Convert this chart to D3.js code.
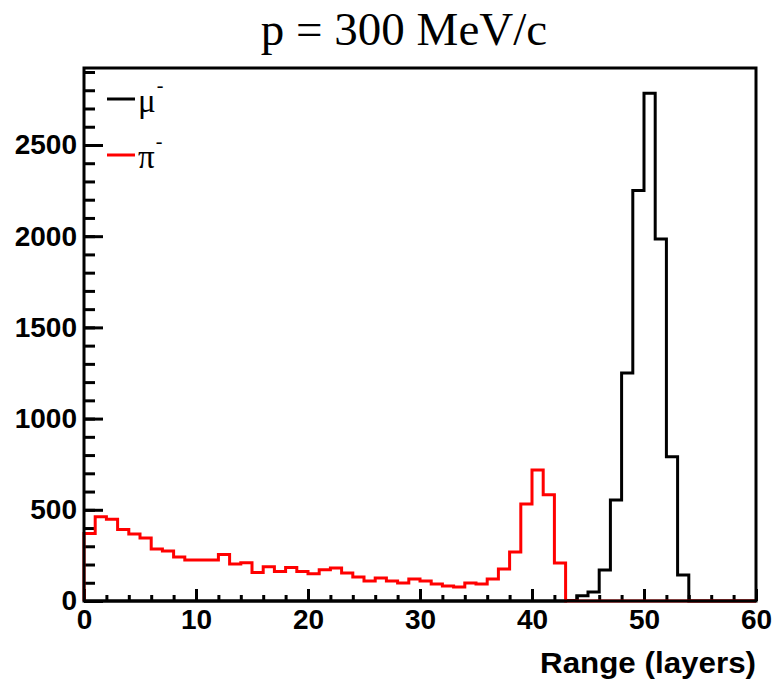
<!DOCTYPE html>
<html>
<head>
<meta charset="utf-8">
<script src="https://cdn.jsdelivr.net/npm/d3@7"></script>
<style>
  body { margin: 0; background: #fff; }
  .tick text { font-family: "Liberation Sans", Arial, sans-serif; font-weight: bold; font-size: 28px; fill: #000; }
</style>
</head>
<body>
<div id="chart"></div>
<script>
// histogram contents, one value per layer bin (0..59)
const BIN_EDGES = d3.range(0, 61);
const MU_COUNTS = [0,0,0,0,0,0,0,0,0,0, 0,0,0,0,0,0,0,0,0,0,
                   0,0,0,0,0,0,0,0,0,0, 0,0,0,0,0,0,0,0,0,0,
                   0,0,0,3,29,49,170,554,1250,2250, 2783,1985,791,142,0,0,0,0,0,0];
const PI_COUNTS = [370,462,448,392,367,345,285,274,241,225, 225,225,255,203,210,156,188,162,183,162,
                   150,172,181,154,132,110,126,110,99,121, 110,93,82,77,99,93,121,175,268,532,
                   718,583,208,0,0,0,0,0,0,0, 0,0,0,0,0,0,0,0,0,0];
const X_MAJOR = [0, 10, 20, 30, 40, 50, 60];
const Y_MAJOR = [0, 500, 1000, 1500, 2000, 2500];

const FRAME_WIDTH = 774;
const FRAME_HEIGHT = 684;
const MARGINS = {left: 84, right: 18, top: 68, bottom: 83};

const svg = d3.select("#chart")
  .append("svg")
    .attr("width", FRAME_WIDTH)
    .attr("height", FRAME_HEIGHT);

const x = d3.scaleLinear()
  .domain([0, 60])
  .range([MARGINS.left, FRAME_WIDTH - MARGINS.right]);

const y = d3.scaleLinear()
  .domain([0, 2922])
  .range([FRAME_HEIGHT - MARGINS.bottom, MARGINS.top]);

// step outline of a histogram
function stepPoints(counts) {
  const pts = [[BIN_EDGES[0], 0]];
  counts.forEach((v, i) => {
    pts.push([BIN_EDGES[i], v]);
    pts.push([BIN_EDGES[i + 1], v]);
  });
  pts.push([BIN_EDGES[BIN_EDGES.length - 1], 0]);
  return pts;
}

const line = d3.line()
  .x((d) => x(d[0]))
  .y((d) => y(d[1]));

// minor ticks
svg.append("g")
  .attr("transform", "translate(0," + y(0) + ")")
  .call(d3.axisBottom(x).tickValues(d3.range(0, 61, 2)).tickSizeInner(-6).tickSizeOuter(0).tickFormat(""))
  .call((g) => g.select(".domain").remove())
  .selectAll("line").attr("stroke-width", 3);

svg.append("g")
  .attr("transform", "translate(" + x(0) + ",0)")
  .call(d3.axisLeft(y).tickValues(d3.range(0, 2901, 100)).tickSizeInner(-11).tickSizeOuter(0).tickFormat(""))
  .call((g) => g.select(".domain").remove())
  .selectAll("line").attr("stroke-width", 3);

// major ticks with labels
const xAxis = svg.append("g")
  .attr("transform", "translate(0," + y(0) + ")")
  .call(d3.axisBottom(x).tickValues(X_MAJOR).tickSizeInner(-12).tickSizeOuter(0).tickPadding(8).tickFormat(d3.format("d")))
  .call((g) => g.select(".domain").remove());
xAxis.selectAll("line").attr("stroke-width", 3);

const yAxis = svg.append("g")
  .attr("transform", "translate(" + x(0) + ",0)")
  .call(d3.axisLeft(y).tickValues(Y_MAJOR).tickSizeInner(-19).tickSizeOuter(0).tickPadding(7).tickFormat(d3.format("d")))
  .call((g) => g.select(".domain").remove());
yAxis.selectAll("line").attr("stroke-width", 3);

// histograms
svg.append("path")
  .attr("d", line(stepPoints(MU_COUNTS)))
  .attr("fill", "none")
  .attr("stroke", "#000")
  .attr("stroke-width", 3);

svg.append("path")
  .attr("d", line(stepPoints(PI_COUNTS)))
  .attr("fill", "none")
  .attr("stroke", "#ff0000")
  .attr("stroke-width", 3);

// frame
svg.append("rect")
  .attr("x", x(0))
  .attr("y", y(2922))
  .attr("width", x(60) - x(0))
  .attr("height", y(0) - y(2922))
  .attr("fill", "none")
  .attr("stroke", "#000")
  .attr("stroke-width", 3);

// title
svg.append("text")
  .attr("x", 404)
  .attr("y", 45)
  .attr("text-anchor", "middle")
  .style("font-family", "'Liberation Serif', 'Times New Roman', serif")
  .style("font-size", "47px")
  .text("p = 300 MeV/c");

// axis title
svg.append("text")
  .attr("x", x(60))
  .attr("y", 673)
  .attr("text-anchor", "end")
  .attr("textLength", 216)
  .attr("lengthAdjust", "spacingAndGlyphs")
  .style("font-family", "'Liberation Sans', Arial, sans-serif")
  .style("font-weight", "bold")
  .style("font-size", "30px")
  .text("Range (layers)");

// legend
const legend = [
  {label: "\u03bc", color: "#000", yl: 99, yt: 112},
  {label: "\u03c0", color: "#ff0000", yl: 155, yt: 168}
];
legend.forEach((d) => {
  svg.append("line")
    .attr("x1", 107).attr("x2", 135)
    .attr("y1", d.yl).attr("y2", d.yl)
    .attr("stroke", d.color)
    .attr("stroke-width", 3);
  const t = svg.append("text")
    .attr("x", 138)
    .attr("y", d.yt)
    .style("font-family", "'Liberation Serif', 'Times New Roman', serif")
    .style("font-size", "33px");
  t.append("tspan").text(d.label);
  t.append("tspan")
    .attr("dy", -20)
    .attr("dx", 1)
    .style("font-size", "20px")
    .text("-");
});
</script>
</body>
</html>
